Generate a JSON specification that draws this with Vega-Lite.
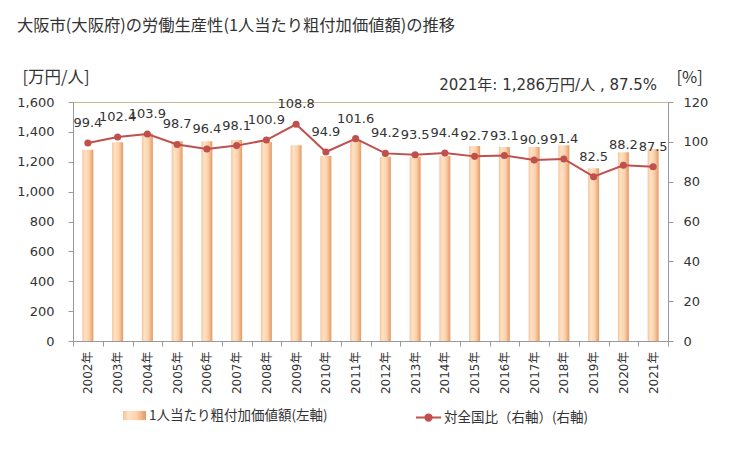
{
  "$schema": "https://vega.github.io/schema/vega-lite/v6.json",
  "width": 595,
  "height": 239,
  "autosize": "none",
  "padding": {"left": 73, "top": 102, "right": 61, "bottom": 109},
  "background": "white",
  "title": {
    "text": "大阪市(大阪府)の労働生産性(1人当たり粗付加価値額)の推移",
    "anchor": "start",
    "frame": "group",
    "dx": -56,
    "offset": 35,
    "font": "Noto Sans CJK JP",
    "fontSize": 16.3,
    "fontWeight": "normal",
    "color": "#333333"
  },
  "config": {
    "view": {"stroke": "#c8b896", "strokeWidth": 1},
    "axis": {"grid": false, "domainColor": "#999999", "tickColor": "#999999", "labelColor": "#333333", "labelFont": "DejaVu Sans", "labelFontSize": 13, "titleFontWeight": "normal", "titleColor": "#333333", "labelOverlap": false}
  },
  "data": {
    "values": [
      {"year": "2002年", "value": 1280, "ratio": 99.4},
      {"year": "2003年", "value": 1331, "ratio": 102.4},
      {"year": "2004年", "value": 1389, "ratio": 103.9},
      {"year": "2005年", "value": 1338, "ratio": 98.7},
      {"year": "2006年", "value": 1338, "ratio": 96.4},
      {"year": "2007年", "value": 1345, "ratio": 98.1},
      {"year": "2008年", "value": 1333, "ratio": 100.9},
      {"year": "2009年", "value": 1311, "ratio": 108.8},
      {"year": "2010年", "value": 1238, "ratio": 94.9},
      {"year": "2011年", "value": 1345, "ratio": 101.6},
      {"year": "2012年", "value": 1233, "ratio": 94.2},
      {"year": "2013年", "value": 1233, "ratio": 93.5},
      {"year": "2014年", "value": 1238, "ratio": 94.4},
      {"year": "2015年", "value": 1305, "ratio": 92.7},
      {"year": "2016年", "value": 1298, "ratio": 93.1},
      {"year": "2017年", "value": 1298, "ratio": 90.9},
      {"year": "2018年", "value": 1311, "ratio": 91.4},
      {"year": "2019年", "value": 1157, "ratio": 82.5},
      {"year": "2020年", "value": 1264, "ratio": 88.2},
      {"year": "2021年", "value": 1286, "ratio": 87.5}
    ]
  },
  "encoding": {
    "x": {
      "field": "year",
      "type": "nominal",
      "sort": null,
      "scale": {"paddingInner": 0, "paddingOuter": 0},
      "axis": {"title": null, "labelAngle": 270, "labelFont": "DejaVu Sans, Noto Sans CJK JP", "labelFontSize": 12, "tickBand": "extent", "tickSize": 5, "labelPadding": 5, "domainColor": "#999999"}
    }
  },
  "layer": [
    {
      "mark": {"type": "bar", "width": {"band": 0.37}, "fill": {"gradient": "linear", "x1": 0, "x2": 1, "y1": 0, "y2": 0, "stops": [{"offset": 0, "color": "#f6c49a"}, {"offset": 0.25, "color": "#fde2c6"}, {"offset": 0.6, "color": "#fbd2aa"}, {"offset": 0.85, "color": "#efae7e"}, {"offset": 1, "color": "#e09a68"}]}},
      "encoding": {
        "y": {
          "field": "value",
          "type": "quantitative",
          "scale": {"domain": [0, 1600]},
          "axis": {"title": "[万円/人]", "titleAngle": 0, "titleX": -51, "titleY": -25, "titleAlign": "left", "titleBaseline": "middle", "titleFont": "Noto Sans CJK JP", "titleFontSize": 16.5, "values": [0, 200, 400, 600, 800, 1000, 1200, 1400, 1600], "format": ",.0f", "tickSize": 5, "labelPadding": 14}
        },
        "opacity": {
          "datum": "1人当たり粗付加価値額(左軸)",
          "type": "nominal",
          "scale": {"type": "ordinal", "range": [1]},
          "legend": {"title": null, "orient": "none", "legendX": 50, "legendY": 302, "padding": 0, "symbolType": "M-1,-0.4H1V0.4H-1Z", "symbolSize": 529, "symbolStrokeWidth": 0, "symbolFillColor": "#f5c49c", "labelFont": "Noto Sans CJK JP", "labelFontSize": 13.5, "labelColor": "#333333", "labelOffset": 3, "labelLimit": 400}
        }
      }
    },
    {
      "encoding": {
        "y": {
          "field": "ratio",
          "type": "quantitative",
          "scale": {"domain": [0, 120]},
          "axis": {"orient": "right", "title": "[%]", "titleAngle": 0, "titleX": 8, "titleY": -25, "titleAlign": "left", "titleBaseline": "middle", "titleFont": "Noto Sans CJK JP", "titleFontSize": 16.5, "values": [0, 20, 40, 60, 80, 100, 120], "tickSize": 5, "labelPadding": 10}
        }
      },
      "layer": [
        {
          "mark": {"type": "line", "strokeWidth": 2},
          "encoding": {
            "stroke": {
              "datum": "対全国比（右軸）(右軸)",
              "type": "nominal",
              "scale": {"range": ["#c0504d"]},
              "legend": {"title": null, "orient": "none", "legendX": 342, "legendY": 302, "padding": 0, "symbolType": "M-1,0H1M-0.25,0A0.25,0.25 0 1,0 0.25,0A0.25,0.25 0 1,0 -0.25,0Z", "symbolSize": 625, "symbolStrokeWidth": 2, "symbolFillColor": "#c0504d", "labelFont": "Noto Sans CJK JP", "labelFontSize": 13.5, "labelColor": "#333333", "labelOffset": 2, "labelLimit": 400}
            }
          }
        },
        {
          "mark": {"type": "point", "filled": true, "color": "#c0504d", "size": 50, "opacity": 1}
        },
        {
          "mark": {"type": "text", "font": "DejaVu Sans", "fontSize": 13, "color": "#333333", "baseline": "bottom", "dy": -13},
          "encoding": {
            "text": {"field": "ratio", "type": "quantitative", "format": ".1f"}
          }
        }
      ]
    },
    {
      "data": {"values": [{"year": "2021年", "note": "2021年: 1,286万円/人 , 87.5%"}]},
      "mark": {"type": "text", "font": "DejaVu Sans, Noto Sans CJK JP", "fontSize": 15, "color": "#333333", "align": "right", "baseline": "middle", "dx": 4, "dy": -17},
      "encoding": {
        "y": {"datum": 120, "type": "quantitative", "scale": {"domain": [0, 120]}, "axis": null},
        "text": {"field": "note", "type": "nominal"}
      }
    }
  ],
  "resolve": {"scale": {"y": "independent"}}
}
